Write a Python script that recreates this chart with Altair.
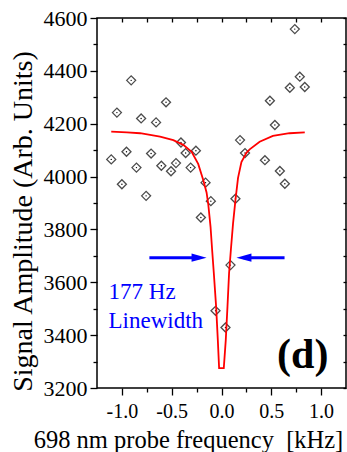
import altair as alt
import pandas as pd

freq = [-1.107, -1.05, -1.0, -0.954, -0.907, -0.854, -0.807, -0.757, -0.707, -0.657,
        -0.604, -0.557, -0.507, -0.457, -0.407, -0.36, -0.31, -0.257, -0.207, -0.16,
        -0.107, -0.06, 0.04, 0.09, 0.14, 0.186, 0.236, 0.436, 0.486, 0.536,
        0.586, 0.636, 0.686, 0.736, 0.786, 0.836]
signal = [4065, 4242, 3971, 4094, 4364, 4034, 4220, 3927, 4087, 4205,
          4041, 4281, 4020, 4051, 4129, 4089, 4034, 4098, 3845, 3977,
          3907, 3492, 3429, 3665, 3916, 4138, 4089, 4062, 4287, 4195,
          4021, 3973, 4336, 4558, 4378, 4339]

fit_freq = [-1.107, -0.95, -0.817, -0.617, -0.484, -0.384, -0.3, -0.234, -0.184, -0.15,
            -0.134, -0.11, -0.094, -0.077, -0.054, -0.037, -0.024, 0.023, 0.043, 0.06,
            0.076, 0.094, 0.116, 0.14, 0.166, 0.2, 0.25, 0.283, 0.383, 0.516,
            0.683, 0.836]
fit_signal = [4170, 4167, 4164, 4151, 4138, 4120, 4094, 4048, 3988, 3940,
              3899, 3810, 3722, 3634, 3508, 3382, 3275, 3275, 3382, 3508,
              3634, 3722, 3823, 3911, 3995, 4055, 4090, 4103, 4132, 4154,
              4164, 4167]

arrow_start = [-0.724, 0.633]
arrow_shaft_end = [-0.22, 0.22]
arrow_tip = [-0.15, 0.15]
arrow_level = [3693, 3693]

note_lines = ["177 Hz", "Linewidth"]
note_x = [-1.134, -1.134]
note_y = [3536, 3426]

panel_label = ["(d)"]
panel_x = [0.816]
panel_y = [3276]

x_major = [-1.0, -0.5, 0.0, 0.5, 1.0]
x_minor = [-0.75, -0.25, 0.25, 0.75]
x_all = [-1.0, -0.75, -0.5, -0.25, 0.0, 0.25, 0.5, 0.75, 1.0]
y_major = [3200, 3400, 3600, 3800, 4000, 4200, 4400, 4600]
y_minor = [3300, 3500, 3700, 3900, 4100, 4300, 4500]
y_all = list(range(3200, 4601, 100))

FONT = "Liberation Serif"
BLUE = "#0000ff"

pts = pd.DataFrame({"f": freq, "s": signal})
fit = pd.DataFrame({"f": fit_freq, "s": fit_signal})
arr = pd.DataFrame({"a": arrow_start, "b": arrow_shaft_end, "t": arrow_tip, "y": arrow_level})
notes = pd.DataFrame({"x": note_x, "y": note_y, "txt": note_lines})
panel = pd.DataFrame({"x": panel_x, "y": panel_y, "txt": panel_label})

xs = alt.Scale(domain=[-1.25, 1.25], nice=False, zero=False)
ys = alt.Scale(domain=[3200, 4600], nice=False, zero=False)

# points with main axes
points = alt.Chart(pts).mark_point(
    shape="diamond", size=81, filled=False, color="black", strokeWidth=1.3
).encode(
    x=alt.X("f:Q", scale=xs, axis=alt.Axis(
        orient="bottom", values=x_major, tickSize=7, tickWidth=1.3, tickColor="black",
        domain=False, grid=False,
        labelExpr="replace(format(datum.value, '.1f'), '\u2212', '-')",
        labelFont=FONT, labelFontSize=20, labelColor="black", labelPadding=6,
        title="698 nm probe frequency\u00a0\u00a0[kHz]",
        titleFont=FONT, titleFontSize=24.5, titleFontWeight="normal", titleColor="black",
        titleX=91, titleY=59, titleBaseline="alphabetic", titleAlign="center")),
    y=alt.Y("s:Q", scale=ys, axis=alt.Axis(
        orient="left", values=y_major, tickSize=7, tickWidth=1.3, tickColor="black",
        domain=False, grid=False, format="d",
        labelFont=FONT, labelFontSize=22, labelColor="black", labelPadding=3,
        title="Signal Amplitude (Arb. Units)",
        titleFont=FONT, titleFontSize=28, titleFontWeight="normal", titleColor="black",
        titleX=-66, titleY=203, titleAngle=270, titleBaseline="alphabetic",
        titleAlign="center")),
)

dots = alt.Chart(pts).mark_circle(size=2, color="black", opacity=1).encode(
    x=alt.X("f:Q", scale=xs, axis=alt.Axis(
        orient="bottom", values=x_minor, tickSize=4, tickWidth=1.3, tickColor="black",
        domain=False, grid=False, labels=False, title=None)),
    y=alt.Y("s:Q", scale=ys, axis=alt.Axis(
        orient="left", values=y_minor, tickSize=4, tickWidth=1.3, tickColor="black",
        domain=False, grid=False, labels=False, title=None)),
)

curve = alt.Chart(fit).mark_line(color="#ff0000", strokeWidth=1.8).encode(
    x=alt.X("f:Q", scale=xs, axis=alt.Axis(
        orient="top", values=x_all, tickSize=4, tickWidth=1.3, tickColor="black",
        offset=-4, domain=False, grid=False, labels=False, title=None)),
    y=alt.Y("s:Q", scale=ys, axis=alt.Axis(
        orient="right", values=y_all, tickSize=3, tickWidth=1.3, tickColor="black",
        offset=-3, domain=False, grid=False, labels=False, title=None)),
)

shafts = alt.Chart(arr).mark_rule(color=BLUE, strokeWidth=3).encode(
    x=alt.X("a:Q", scale=xs, axis=None),
    x2="b:Q",
    y=alt.Y("y:Q", scale=ys, axis=None),
)

head_right = alt.Chart(arr.iloc[[0]]).mark_point(
    shape="M0,0L-2,-0.55L-2,0.55Z", size=225, filled=True, color=BLUE, strokeWidth=0, opacity=1
).encode(
    x=alt.X("t:Q", scale=xs, axis=None),
    y=alt.Y("y:Q", scale=ys, axis=None),
)

head_left = alt.Chart(arr.iloc[[1]]).mark_point(
    shape="M0,0L2,-0.55L2,0.55Z", size=225, filled=True, color=BLUE, strokeWidth=0, opacity=1
).encode(
    x=alt.X("t:Q", scale=xs, axis=None),
    y=alt.Y("y:Q", scale=ys, axis=None),
)

note_text = alt.Chart(notes).mark_text(
    align="left", baseline="alphabetic", font=FONT, fontSize=23, color=BLUE
).encode(
    x=alt.X("x:Q", scale=xs, axis=None),
    y=alt.Y("y:Q", scale=ys, axis=None),
    text="txt:N",
)

panel_text = alt.Chart(panel).mark_text(
    align="center", baseline="alphabetic", font=FONT, fontSize=42, fontWeight="bold",
    color="black"
).encode(
    x=alt.X("x:Q", scale=xs, axis=None),
    y=alt.Y("y:Q", scale=ys, axis=None),
    text="txt:N",
)

chart = alt.layer(
    points, dots, curve, shafts, head_right, head_left, note_text, panel_text
).resolve_axis(
    x="independent", y="independent"
).properties(
    width=249, height=370,
    padding={"left": 97, "top": 18, "right": 1, "bottom": 64},
    autosize=alt.AutoSizeParams(type="none"),
    background="white",
).configure_view(
    stroke="black", strokeWidth=1.5
)

chart.save("out.html", embed_options={"renderer": "svg", "actions": False})
